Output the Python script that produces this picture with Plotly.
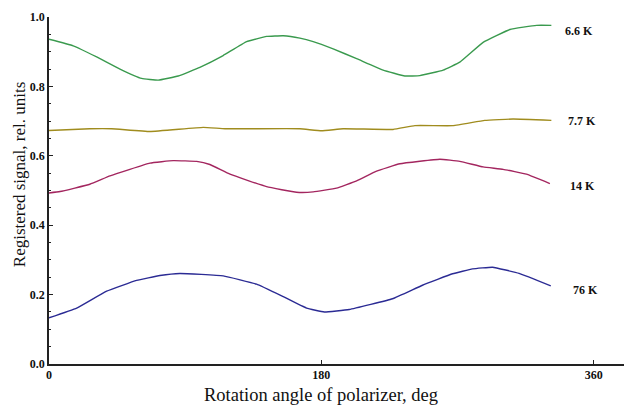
import plotly.graph_objects as go

# 6.6 K
x_66 = [0, 16, 31.5, 46.9, 61.2, 72.2, 85.4, 99.7, 115.1, 130.6, 143.8, 154.8, 165.8, 174.6,
        187.8, 203.3, 220.8, 235.2, 245.1, 260.5, 271.5, 286.9, 304.6, 322.2, 332]
y_66 = [0.936, 0.917, 0.885, 0.850, 0.823, 0.818, 0.830, 0.855, 0.889, 0.929, 0.944, 0.946, 0.939, 0.929,
        0.908, 0.880, 0.847, 0.830, 0.831, 0.847, 0.870, 0.927, 0.964, 0.976, 0.976]

# 7.7 K
x_77 = [0, 27, 41.4, 66.7, 101.9, 116.3, 165.8, 180.1, 194.4, 227.4, 241.8, 267.1, 288, 306.7, 332]
y_77 = [0.673, 0.678, 0.678, 0.670, 0.682, 0.678, 0.678, 0.672, 0.678, 0.676, 0.687, 0.687, 0.702, 0.706, 0.702]

# 14 K
x_14 = [0, 7.3, 27, 40.3, 66.7, 82.1, 97.6, 106.3, 119.6, 143.8, 163.6, 174.6, 190, 203.3,
        216.5, 231.9, 258.3, 271.5, 286.9, 300.1, 315.5, 331]
y_14 = [0.493, 0.497, 0.518, 0.542, 0.579, 0.586, 0.584, 0.575, 0.547, 0.511, 0.495, 0.496, 0.507, 0.528,
        0.556, 0.577, 0.590, 0.584, 0.568, 0.561, 0.547, 0.520]

# 76 K
x_76 = [0, 18.3, 38.1, 57.9, 73.3, 86.5, 115.1, 137.2, 154.8, 170.2, 181.9, 198.4, 227, 246.8,
        266.7, 279.9, 293.1, 310.7, 331.6]
y_76 = [0.133, 0.161, 0.210, 0.241, 0.255, 0.261, 0.254, 0.230, 0.194, 0.161, 0.150, 0.157, 0.188, 0.227,
        0.260, 0.274, 0.279, 0.261, 0.225]

labels = ["6.6 K", "7.7 K", "14 K", "76 K"]
label_x = [340, 341.5, 343, 345]
label_y = [0.96, 0.701, 0.513, 0.212]
colors = ["#3a9a4e", "#a08c1e", "#a3265f", "#2b2b94"]

series = [(x_66, y_66), (x_77, y_77), (x_14, y_14), (x_76, y_76)]

SERIF = "Liberation Serif, Times New Roman, serif"

fig = go.Figure()
for (xs, ys), c, name in zip(series, colors, labels):
    fig.add_trace(go.Scatter(x=xs, y=ys, mode="lines", name=name,
                             line=dict(color=c, width=1.4, shape="spline", smoothing=0.3)))

for t, lx, ly in zip(labels, label_x, label_y):
    fig.add_annotation(x=lx, y=ly, text="<b>" + t + "</b>", showarrow=False,
                       xanchor="left", yanchor="middle",
                       font=dict(family=SERIF, size=12, color="#111"))

fig.add_annotation(x=180, y=-0.09, xref="x", yref="paper", text="Rotation angle of polarizer, deg",
                   showarrow=False, xanchor="center", yanchor="middle",
                   font=dict(family=SERIF, size=18.5, color="#111"))
fig.add_annotation(x=-0.051, y=0.546, xref="paper", yref="paper", textangle=-90,
                   text="Registered signal, rel. units", showarrow=False,
                   xanchor="center", yanchor="middle",
                   font=dict(family=SERIF, size=17, color="#111"))

fig.update_layout(
    width=636, height=405,
    margin=dict(l=49, r=12, t=10, b=41),
    plot_bgcolor="white", paper_bgcolor="white",
    showlegend=False,
    font=dict(family=SERIF, size=12, color="#111"),
)
fig.update_xaxes(range=[0, 380], tickvals=[0, 180, 360], ticktext=["<b>0</b>", "<b>180</b>", "<b>360</b>"],
                 ticks="inside", ticklen=4, tickwidth=1, tickcolor="#222",
                 showline=True, linecolor="#222", linewidth=1.5, showgrid=False, zeroline=False,
                 ticklabelstandoff=-1)
fig.update_yaxes(range=[0, 1.0], tickvals=[0, 0.2, 0.4, 0.6, 0.8, 1.0],
                 ticktext=["<b>0.0</b>", "<b>0.2</b>", "<b>0.4</b>", "<b>0.6</b>", "<b>0.8</b>", "<b>1.0</b>"],
                 ticks="inside", ticklen=4, tickwidth=1, tickcolor="#222",
                 minor=dict(dtick=0.05, ticks="inside", ticklen=2, tickcolor="#222", showgrid=False),
                 showline=True, linecolor="#222", linewidth=1.5, showgrid=False, zeroline=False,
                 ticklabelstandoff=0)

fig.write_html("out.html")
